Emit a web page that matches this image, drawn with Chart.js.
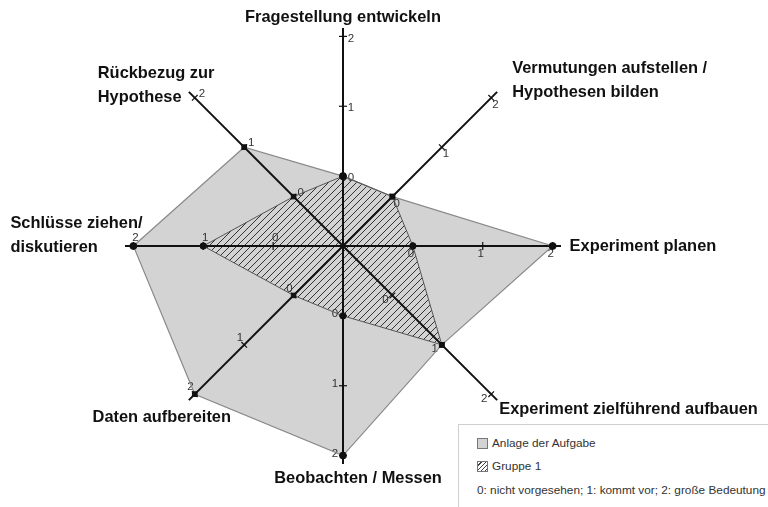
<!DOCTYPE html>
<html>
<head>
<meta charset="utf-8">
<script src="https://cdn.jsdelivr.net/npm/chart.js@4/dist/chart.umd.min.js"></script>
<style>
  body { margin: 0; background: #fff; }
  #wrap { position: relative; width: 768px; height: 507px; overflow: hidden; }
  #legend {
    position: absolute; left: 458px; top: 424px; width: 330px; height: 84px;
    border: 1px solid #cfcfcf; background: #fff; box-sizing: border-box;
    font-family: "Liberation Sans", Arial, sans-serif; font-size: 11.8px; color: #333;
  }
  #legend .row { position: absolute; left: 18px; white-space: nowrap; }
  #legend .sw { display: inline-block; width: 11px; height: 11px; border: 1px solid #777;
    box-sizing: border-box; vertical-align: -2px; margin-right: 4px; }
</style>
</head>
<body>
<div id="wrap">
  <canvas id="chart-1" width="768" height="507"></canvas>
  <div id="legend"></div>
</div>
<script>
const categories = [
  ['Fragestellung entwickeln'],
  ['Vermutungen aufstellen /', 'Hypothesen bilden'],
  ['Experiment planen'],
  ['Experiment zielführend aufbauen'],
  ['Beobachten / Messen'],
  ['Daten aufbereiten'],
  ['Schlüsse ziehen/', 'diskutieren'],
  ['Rückbezug zur', 'Hypothese']
];
const seriesNames = ['Anlage der Aufgabe', 'Gruppe 1'];
const anlageValues = [0, 0, 2, 1, 2, 2, 2, 1];
const gruppeValues = [0, 0, 0, 1, 0, 0, 1, 0];
const tickValues = [0, 1, 2];
const scaleNote = '0: nicht vorgesehen; 1: kommt vor; 2: große Bedeutung';

// where each category label sits, relative to the end of its axis
const labelLayout = [
  { dx: 0, dy: -19, align: 'center' },
  { dx: 21, dy: -29, align: 'left' },
  { dx: 17, dy: 0, align: 'left' },
  { dx: 8, dy: 15, align: 'left' },
  { dx: 15, dy: 23, align: 'center' },
  { dx: -33, dy: 23, align: 'center' },
  { dx: -123, dy: -23, align: 'left' },
  { dx: -97, dy: -24, align: 'left' }
];

function hatch() {
  const s = 7;
  const c = document.createElement('canvas');
  c.width = s; c.height = s;
  const g = c.getContext('2d');
  g.strokeStyle = '#333';
  g.lineWidth = 1;
  g.beginPath();
  g.moveTo(0, s); g.lineTo(s, 0);
  g.moveTo(-1, 1); g.lineTo(1, -1);
  g.moveTo(s - 1, s + 1); g.lineTo(s + 1, s - 1);
  g.stroke();
  return g.createPattern(c, 'repeat');
}

const pointStyles = ['circle', 'rect', 'circle', 'rect', 'circle', 'rect', 'circle', 'rect'];

const axesPlugin = {
  id: 'axes',
  beforeDatasetsDraw(chart) {
    const r = chart.scales.r;
    const ctx = chart.ctx;
    ctx.save();
    ctx.strokeStyle = '#111';
    ctx.lineWidth = 2;
    for (let i = 0; i < categories.length; i++) {
      const end = r.getPointPositionForValue(i, r.max);
      ctx.beginPath();
      ctx.moveTo(r.xCenter, r.yCenter);
      ctx.lineTo(end.x, end.y);
      ctx.stroke();
    }
    ctx.lineWidth = 1.2;
    ctx.fillStyle = '#333';
    ctx.font = '11.5px "Liberation Sans", Arial, sans-serif';
    ctx.textAlign = 'center';
    ctx.textBaseline = 'middle';
    for (let i = 0; i < categories.length; i++) {
      const a = r.getPointPositionForValue(i, 0);
      const b = r.getPointPositionForValue(i, 2);
      const len = Math.hypot(b.x - a.x, b.y - a.y);
      const ux = (b.x - a.x) / len, uy = (b.y - a.y) / len;
      const px = -uy, py = ux; // clockwise normal
      tickValues.forEach(v => {
        const p = r.getPointPositionForValue(i, v);
        ctx.beginPath();
        ctx.moveTo(p.x - px * 4, p.y - py * 4);
        ctx.lineTo(p.x + px * 4, p.y + py * 4);
        ctx.stroke();
        ctx.fillText(String(v), p.x + px * 8 - ux * 2, p.y + py * 8 - uy * 2);
      });
    }
    ctx.restore();
  },
  afterDraw(chart) {
    const r = chart.scales.r;
    const ctx = chart.ctx;
    ctx.save();
    ctx.fillStyle = '#111';
    ctx.font = 'bold 16.4px "Liberation Sans", Arial, sans-serif';
    ctx.textBaseline = 'middle';
    categories.forEach((lines, i) => {
      const p = r.getPointPositionForValue(i, 2);
      const l = labelLayout[i];
      ctx.textAlign = l.align;
      lines.forEach((t, k) => ctx.fillText(t, p.x + l.dx, p.y + l.dy + k * 24));
    });
    ctx.restore();
  }
};

const chart1 = new Chart(document.getElementById('chart-1'), {
  type: 'radar',
  data: {
    labels: categories,
    datasets: [{
      label: seriesNames[0],
      data: anlageValues,
      backgroundColor: '#d3d3d3',
      borderColor: '#8a8a8a',
      borderWidth: 1.2,
      fill: 'start',
      order: 2,
      pointStyle: pointStyles,
      pointRadius: 3.2,
      pointBackgroundColor: '#111',
      pointBorderColor: '#111'
    }, {
      label: seriesNames[1],
      data: gruppeValues,
      backgroundColor: hatch(),
      borderColor: '#555',
      borderWidth: 1,
      fill: 'start',
      order: 1,
      pointStyle: pointStyles,
      pointRadius: 3.2,
      pointBackgroundColor: '#111',
      pointBorderColor: '#111'
    }]
  },
  options: {
    responsive: false,
    animation: false,
    layout: { padding: { left: 125, right: 207, top: 28, bottom: 43 } },
    plugins: {
      legend: { display: false },
      tooltip: { enabled: false },
      filler: { drawTime: 'beforeDatasetsDraw' }
    },
    scales: {
      r: {
        min: -1,
        max: 2.12,
        ticks: { display: false, stepSize: 1 },
        grid: { display: false },
        angleLines: { display: false },
        pointLabels: { display: false }
      }
    },
    elements: { line: { tension: 0 } }
  },
  plugins: [axesPlugin]
});

// legend box
const lg = document.getElementById('legend');
lg.innerHTML =
  '<div class="row" style="top:11px"><span class="sw" style="background:#d3d3d3"></span>' + seriesNames[0] + '</div>' +
  '<div class="row" style="top:34px"><span class="sw" style="background:repeating-linear-gradient(135deg,#fff 0 2px,#444 2px 3px)"></span>' + seriesNames[1] + '</div>' +
  '<div class="row" style="top:58px">' + scaleNote + '</div>';
</script>
</body>
</html>
